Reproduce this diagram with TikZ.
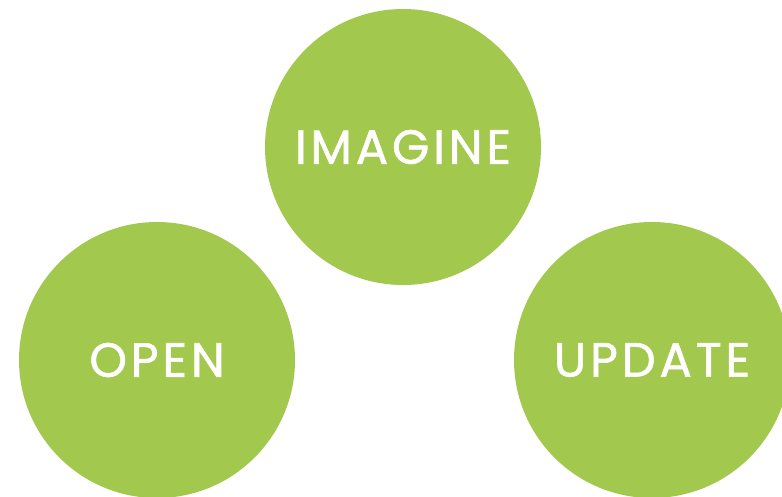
\documentclass[tikz,border=0pt]{standalone}
\usepackage{fontspec}
\setmainfont{Poppins}
\newfontfamily\bubblefont[LetterSpace=8, FakeBold=1.2]{Poppins}
\definecolor{leafgreen}{RGB}{162,200,78}

\begin{document}
\begin{tikzpicture}[x=1pt, y=-1pt,
    bubble/.style={circle, inner sep=0pt, minimum size=276pt, fill=leafgreen,
      text=white, font=\bubblefont\fontsize{48}{48}\selectfont}]
      \clip (0,0) rectangle (782,496);

      \node[bubble] (imagine) at (403,147) {IMAGINE};
      \node[bubble] (open) at (157,360) {OPEN};
      \node[bubble] (update) at (652,360) {UPDATE};
    \end{tikzpicture}
\end{document}
